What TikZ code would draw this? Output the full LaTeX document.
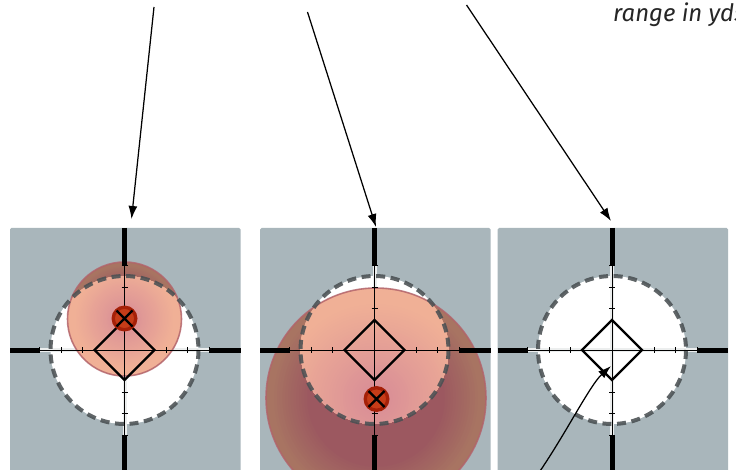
\documentclass[tikz,border=0pt]{standalone}
\usepackage{fontspec}
\setsansfont{Fira Sans}
\usetikzlibrary{arrows.meta,calc}
\definecolor{panelgray}{HTML}{A9B6BB}
\definecolor{dashgray}{HTML}{4A5053}
\definecolor{dotred}{HTML}{A52008}
\definecolor{dotinner}{HTML}{C63C18}
\definecolor{wIn}{HTML}{DA9096}
\definecolor{wOut}{HTML}{F0B096}
\definecolor{gIn}{HTML}{9C5860}
\definecolor{gOut}{HTML}{A87462}
\definecolor{rimred}{HTML}{B2626A}
\definecolor{halowhite}{HTML}{ECEEEE}
\definecolor{labelgray}{HTML}{262626}

\tikzset{
  panelbg/.style={fill=panelgray, rounded corners=1.5pt},
  whitedisc/.style={fill=white},
  ringdash/.style={draw=dashgray, line width=4pt, dash pattern=on 9pt off 5.6pt, draw opacity=0.88},
  thinline/.style={line width=0.8pt, black},
  halo/.style={line width=4pt, halowhite},
  post/.style={line width=5pt, black},
  tickline/.style={line width=0.6pt, black},
  diamondline/.style={line width=2.4pt, black, line join=miter},
  pointer/.style={line width=1.25pt, black, -{Latex[length=13pt,width=9pt]}},
  xmark/.style={line width=2.4pt, black},
  rim/.style={draw=rimred, line width=1.6pt, opacity=0.8},
  rangelabel/.style={anchor=base west, inner sep=0pt, text=labelgray,
    font=\sffamily\itshape\fontsize{24}{28}\selectfont},
}

% background of one panel with white disc and halos
\newcommand\rsPanelBase{%
  \fill[panelbg] (-114.5,-122) rectangle (116,130);
  \fill[whitedisc] (0,0) circle[radius=74];
  \draw[halo] (-85,0) -- (85,0);
  \draw[halo] (0,-85) -- (0,85);
}
% impact spread: #1,#2 centre, #3 radius
\newcommand\rsBlob[3]{%
  \foreach \i in {40,39,...,1}{%
    \pgfmathtruncatemacro\pc{max(0,min(100,(\i/40-0.62)/0.33*100))}%
    \fill[gOut!\pc!gIn] (#1,#2) circle[radius={#3*\i/40}];
  }%
  \begin{scope}
    \clip (0,0) circle[radius=74];
    \foreach \i in {40,39,...,1}{%
      \pgfmathtruncatemacro\pc{max(0,min(100,(\i/40-0.12)/0.75*100))}%
      \fill[wOut!\pc!wIn] (#1,#2) circle[radius={#3*\i/40}];
    }%
  \end{scope}
  \draw[rim] (#1,#2) circle[radius=#3];
}
\newcommand\rsRing{\draw[ringdash] (0,0) circle[radius=74];}
\newcommand\rsCross{%
  \draw[thinline] (-85,0) -- (85,0) (0,-85) -- (0,85);
  \foreach \d in {-85,-63,-42,42,63,85}{%
    \draw[tickline] (\d,-3) -- (\d,3);
    \draw[tickline] (-3,\d) -- (3,\d);
  }
  \draw[post] (-114.5,0) -- (-85,0) (85,0) -- (116,0) (0,-122) -- (0,-85) (0,85) -- (0,130);
  \draw[thinline] (-5,0) -- (5,0) (0,-5) -- (0,5);
  \draw[diamondline] (0,-30) -- (30,0) -- (0,30) -- (-30,0) -- cycle;
}
\newcommand\rsHit[2]{%
  \fill[dotred] (#1,#2) circle[radius=13];
  \fill[dotinner] (#1,#2) circle[radius=10];
  \draw[dotred, line width=0.8pt] (#1,#2) circle[radius=10];
  \draw[xmark] ($(#1,#2)+(-8,-8)$) -- ($(#1,#2)+(8,8)$) ($(#1,#2)+(-8,8)$) -- ($(#1,#2)+(8,-8)$);
}

\begin{document}
\begin{tikzpicture}[x=1pt,y=-1pt]
\useasboundingbox (0,0) rectangle (736,470);
\clip (0,0) rectangle (736,470);

% panel 1
\begin{scope}[shift={(124.5,350)}]
  \rsPanelBase
  \rsBlob{0}{-31}{57}
  \rsRing
  \rsCross
  \rsHit{0}{-31.5}
\end{scope}

% panel 2
\begin{scope}[shift={(374.5,350)}]
  \rsPanelBase
  \rsBlob{1.5}{48}{110}
  \rsRing
  \rsCross
  \rsHit{2}{49}
\end{scope}

% panel 3
\begin{scope}[shift={(612,350)}]
  \rsPanelBase
  \rsRing
  \rsCross
\end{scope}

\node[rangelabel] (rangelbl) at (613,22) {range in yds};

\coordinate (a1s) at (154,7);
\coordinate (a1e) at (131.5,219);
\coordinate (a2s) at (307.5,12);
\coordinate (a2e) at (376,227);
\coordinate (a3s) at (466.5,5);
\coordinate (a3e) at (611,221);
\coordinate (c4s) at (538,474);
\coordinate (c4e) at (611,366);

\draw[pointer] (a1s) -- (a1e);
\draw[pointer] (a2s) -- (a2e);
\draw[pointer] (a3s) -- (a3e);
\draw[pointer] (c4s) .. controls (565,435) and (590,385) .. (c4e);
\end{tikzpicture}
\end{document}
